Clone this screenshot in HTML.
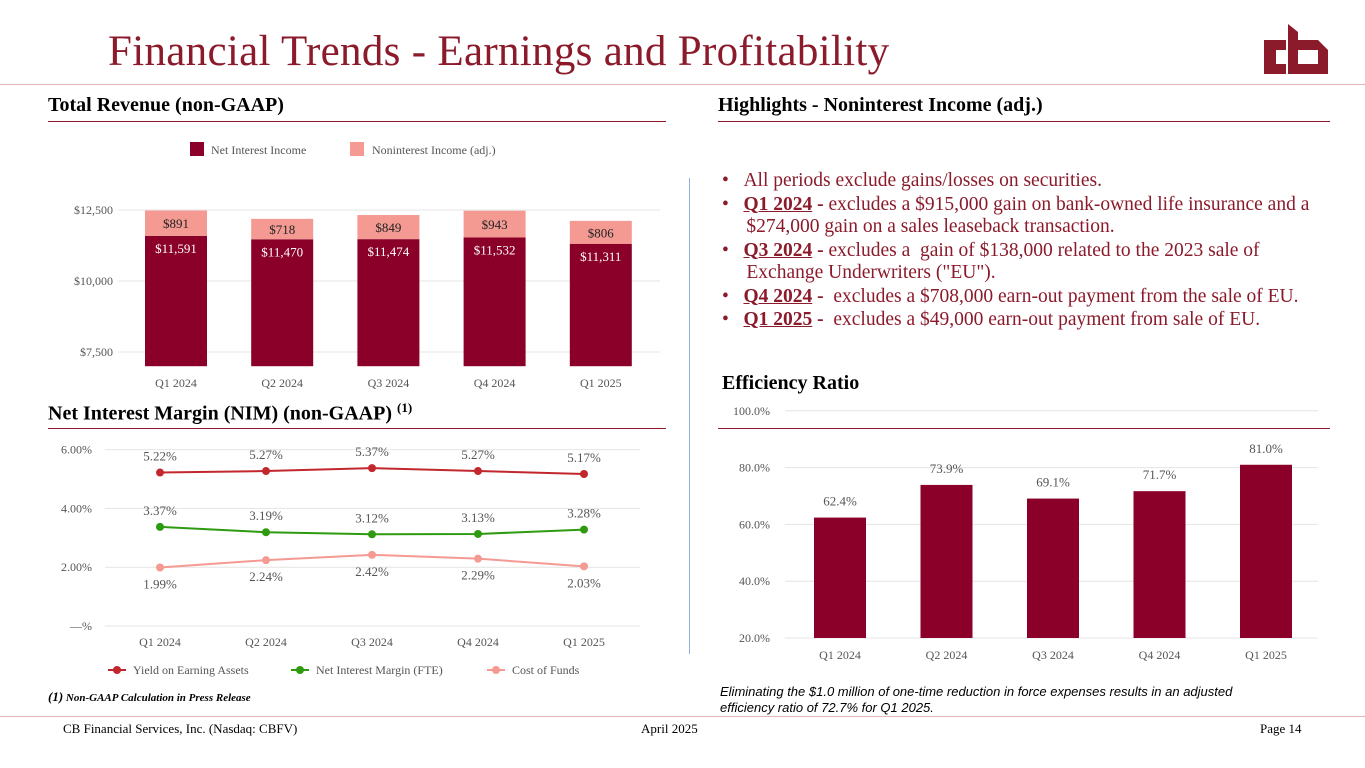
<!DOCTYPE html>
<html><head><meta charset="utf-8"><style>
body{margin:0;width:1365px;height:768px;background:#fff;font-family:"Liberation Serif",serif;position:relative;overflow:hidden}
.a{position:absolute;white-space:nowrap}
svg{position:absolute;left:0;top:0}
#hl div{margin-bottom:1px}
</style></head><body>
<div class="a" style="left:108px;top:30px;font-size:43px;color:#8b1a2b;line-height:1;letter-spacing:0.3px">Financial Trends - Earnings and Profitability</div>
<div class="a" style="left:1262px;top:18px;width:70px;height:58px">
<svg width="70" height="58" viewBox="0 0 70 58"><path d="M2 22h22v10H14v14h10v10H2z M26 6l10 8v8h20l10 10v24H26z M36 32v14h20V32z" fill="#8b1a2b" fill-rule="evenodd"/></svg></div>
<div class="a" style="left:0;top:84px;width:1365px;height:1px;background:#e4b8b8"></div>
<div class="a" style="left:48px;top:94px;font-size:20px;font-weight:bold">Total Revenue (non-GAAP)</div>
<div class="a" style="left:48px;top:121px;width:618px;height:1px;background:#8b1a2b"></div>
<div class="a" style="left:718px;top:94px;font-size:20px;font-weight:bold">Highlights - Noninterest Income (adj.)</div>
<div class="a" style="left:718px;top:121px;width:612px;height:1px;background:#8b1a2b"></div>
<div class="a" style="left:689px;top:178px;width:1px;height:476px;background:#8fb0d8"></div>
<div id="hl" class="a" style="left:722px;top:170px;font-size:19.5px;color:#8b1a2b;line-height:22.5px;white-space:nowrap;width:640px">
<div>•&nbsp;&nbsp;&nbsp;All periods exclude gains/losses on securities.</div>
<div>•&nbsp;&nbsp;&nbsp;<b><u>Q1 2024</u> -</b> excludes a $915,000 gain on bank-owned life insurance and a<br>&nbsp;&nbsp;&nbsp;&nbsp;&nbsp;$274,000 gain on a sales leaseback transaction.</div>
<div>•&nbsp;&nbsp;&nbsp;<b><u>Q3 2024</u> -</b> excludes a&nbsp; gain of $138,000 related to the 2023 sale of<br>&nbsp;&nbsp;&nbsp;&nbsp;&nbsp;Exchange Underwriters ("EU").</div>
<div>•&nbsp;&nbsp;&nbsp;<b><u>Q4 2024</u> -</b>&nbsp; excludes a $708,000 earn-out payment from the sale of EU.</div>
<div>•&nbsp;&nbsp;&nbsp;<b><u>Q1 2025</u> -</b>&nbsp; excludes a $49,000 earn-out payment from sale of EU.</div></div>
<div class="a" style="left:48px;top:400px;font-size:20px;font-weight:bold">Net Interest Margin (NIM) (non-GAAP) <sup style="font-size:13px">(1)</sup></div>
<div class="a" style="left:48px;top:428px;width:618px;height:1px;background:#8b1a2b"></div>
<div class="a" style="left:722px;top:372px;font-size:20px;font-weight:bold">Efficiency Ratio</div>
<div class="a" style="left:718px;top:428px;width:612px;height:1px;background:#8b1a2b"></div>
<div class="a" style="left:48px;top:689px;font-size:11px;font-style:italic;font-weight:bold"><span style="font-size:13px">(1)</span> Non-GAAP Calculation in Press Release</div>
<div class="a" style="left:720px;top:684px;font-size:13px;font-style:italic;font-family:'Liberation Sans',sans-serif;line-height:16px">Eliminating the $1.0 million of one-time reduction in force expenses results in an adjusted<br>efficiency ratio of 72.7% for Q1 2025.</div>
<div class="a" style="left:0;top:716px;width:1365px;height:1px;background:#e4b8b8"></div>
<div class="a" style="left:63px;top:721px;font-size:13px">CB Financial Services, Inc. (Nasdaq: CBFV)</div>
<div class="a" style="left:641px;top:721px;font-size:13px">April 2025</div>
<div class="a" style="left:1260px;top:721px;font-size:13px">Page 14</div>
<svg id="s" width="1365" height="768"></svg>
<script>
const quarters=["Q1 2024","Q2 2024","Q3 2024","Q4 2024","Q1 2025"];
const nii=[11591,11470,11474,11532,11311];
const nonint=[891,718,849,943,806];
const revTicks=[7500,10000,12500];
const yieldEA=[5.22,5.27,5.37,5.27,5.17];
const nimFte=[3.37,3.19,3.12,3.13,3.28];
const costFunds=[1.99,2.24,2.42,2.29,2.03];
const nimTicks=[0,2,4,6];
const effRatio=[62.4,73.9,69.1,71.7,81.0];
const effTicks=[20,40,60,80,100];
const S=document.getElementById('s'),NS="http://www.w3.org/2000/svg";
function el(t,a,txt){const e=document.createElementNS(NS,t);for(const k in a)e.setAttribute(k,a[k]);if(txt!==undefined)e.textContent=txt;S.appendChild(e);return e;}
const DR="#8b0029",PK="#f59a93",GR="#2e9a0f",RD="#c2272d",TX="#555";
// revenue
const rx=i=>176+i*106.2, ry=v=>352-(v-7500)/2500*71;
revTicks.forEach(t=>{let l=el('line',{x1:118,x2:660,y1:ry(t),y2:ry(t),stroke:'#e4e4e4'});
let tx=el('text',{x:113,y:ry(t)+4,'text-anchor':'end','font-size':12,fill:TX},'$'+t.toLocaleString('en-US'));});
quarters.forEach((q,i)=>{const b=ry(7000),t1=ry(nii[i]),t2=ry(nii[i]+nonint[i]);
let r=el('rect',{x:rx(i)-31,y:t1,width:62,height:b-t1,fill:DR});
let r2=el('rect',{x:rx(i)-31,y:t2,width:62,height:t1-t2,fill:PK});
let a=el('text',{x:rx(i),y:t1+17,'text-anchor':'middle','font-size':13,fill:'#fff'},'$'+nii[i].toLocaleString('en-US'));
let c=el('text',{x:rx(i),y:(t1+t2)/2+5,'text-anchor':'middle','font-size':13,fill:'#222'},'$'+nonint[i]);
let x=el('text',{x:rx(i),y:387,'text-anchor':'middle','font-size':12,fill:TX},q);});
let lg1=el('rect',{x:190,y:142,width:14,height:14,fill:DR});
let lt1=el('text',{x:211,y:154,'font-size':12,fill:TX},'Net Interest Income');
let lg2=el('rect',{x:350,y:142,width:14,height:14,fill:PK});
let lt2=el('text',{x:372,y:154,'font-size':12,fill:TX},'Noninterest Income (adj.)');
// NIM
const nx=i=>160+i*106, ny=v=>626-v*29.4;
nimTicks.forEach(t=>{let l=el('line',{x1:105,x2:640,y1:ny(t),y2:ny(t),stroke:'#e4e4e4'});
let tx=el('text',{x:92,y:ny(t)+4,'text-anchor':'end','font-size':12,fill:TX},t===0?'—%':t.toFixed(2)+'%');});
[[yieldEA,RD,-12,'yield'],[nimFte,GR,-12,'nim'],[costFunds,PK,21,'cost']].forEach(([d,c,off,n])=>{
let p=el('polyline',{points:d.map((v,i)=>nx(i)+','+ny(v)).join(' '),fill:'none',stroke:c,'stroke-width':2});
d.forEach((v,i)=>{let m=el('circle',{cx:nx(i),cy:ny(v),r:4,fill:c});
let t=el('text',{x:nx(i),y:ny(v)+off,'text-anchor':'middle','font-size':13,fill:TX},v.toFixed(2)+'%');});});
quarters.forEach((q,i)=>{let x=el('text',{x:nx(i),y:646,'text-anchor':'middle','font-size':12,fill:TX},q);});
[[108,'Yield on Earning Assets',RD],[291,'Net Interest Margin (FTE)',GR],[487,'Cost of Funds',PK]].forEach(([x,t,c])=>{
let l=el('line',{x1:x,x2:x+18,y1:670,y2:670,stroke:c,'stroke-width':2});
let m=el('circle',{cx:x+9,cy:670,r:4,fill:c});
let tx=el('text',{x:x+25,y:674,'font-size':12,fill:TX},t);});
// efficiency
const ex=i=>840+i*106.5, ey=v=>638-(v-20)*2.84;
effTicks.forEach(t=>{let l=el('line',{x1:785,x2:1318,y1:ey(t),y2:ey(t),stroke:'#e4e4e4'});
let tx=el('text',{x:770,y:ey(t)+4,'text-anchor':'end','font-size':12,fill:TX},t.toFixed(1)+'%');});
effRatio.forEach((v,i)=>{let r=el('rect',{x:ex(i)-26,y:ey(v),width:52,height:ey(20)-ey(v),fill:DR});
let t=el('text',{x:ex(i),y:ey(v)-12,'text-anchor':'middle','font-size':13,fill:TX},v.toFixed(1)+'%');
let x=el('text',{x:ex(i),y:659,'text-anchor':'middle','font-size':12,fill:TX},quarters[i]);});
</script>
</body></html>
